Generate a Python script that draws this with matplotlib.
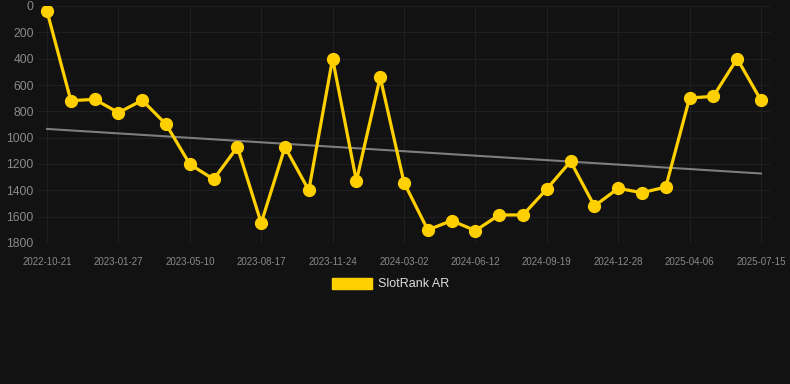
import matplotlib
matplotlib.use("Agg")
import matplotlib.pyplot as plt
from matplotlib.patches import Patch
import numpy as np

plt.rcParams['font.family'] = ['Liberation Sans', 'DejaVu Sans']

series_name = "SlotRank AR"
ranks = [40, 719, 709, 810, 716, 898, 1202, 1316, 1071, 1648, 1071, 1400, 400, 1329, 541,
         1341, 1701, 1630, 1706, 1587, 1587, 1390, 1180, 1519, 1385, 1418, 1375, 699, 686, 400, 716]
tick_labels = ["2022-10-21", "2023-01-27", "2023-05-10", "2023-08-17", "2023-11-24",
               "2024-03-02", "2024-06-12", "2024-09-19", "2024-12-28", "2025-04-06", "2025-07-15"]
y_ticks = [0, 200, 400, 600, 800, 1000, 1200, 1400, 1600, 1800]

bg = "#121212"
gold = "#FFD000"

fig = plt.figure(figsize=(7.9, 3.84), dpi=100, facecolor=bg)
ax = fig.add_axes([38/790, 1-243/384, (770-38)/790, (243-6)/384], facecolor=bg)

x = np.arange(len(ranks))
coef = np.polyfit(x, ranks, 1)
ax.plot(x, np.polyval(coef, x), color="#7e7e7e", lw=1.5, zorder=2)
ax.plot(x, ranks, color=gold, lw=2.3, marker='o', ms=8.5, zorder=3)

ax.set_xlim(-0.38, len(ranks) - 1 + 0.38)
ax.set_ylim(1800, 0)
ax.set_yticks(y_ticks)
ax.set_yticklabels([str(v) for v in y_ticks], fontsize=8.7, color="#8a8a8a")
ax.set_xticks(x[::3])
ax.set_xticklabels(tick_labels, fontsize=7, color="#8a8a8a")
ax.tick_params(axis='x', length=0, pad=10)
ax.tick_params(axis='y', length=0, pad=3)
ax.grid(True, color="#1f1f1f", lw=0.8)
for s in ax.spines.values():
    s.set_visible(False)

fig.legend(handles=[Patch(facecolor=gold, edgecolor=gold, label=series_name)],
           loc='center', bbox_to_anchor=(391/790, 1-284/384), frameon=False,
           handlelength=3.2, handleheight=1.0, fontsize=9, labelcolor="#dddddd",
           handletextpad=0.5)

fig.savefig("out.png", dpi=100, facecolor=bg)
